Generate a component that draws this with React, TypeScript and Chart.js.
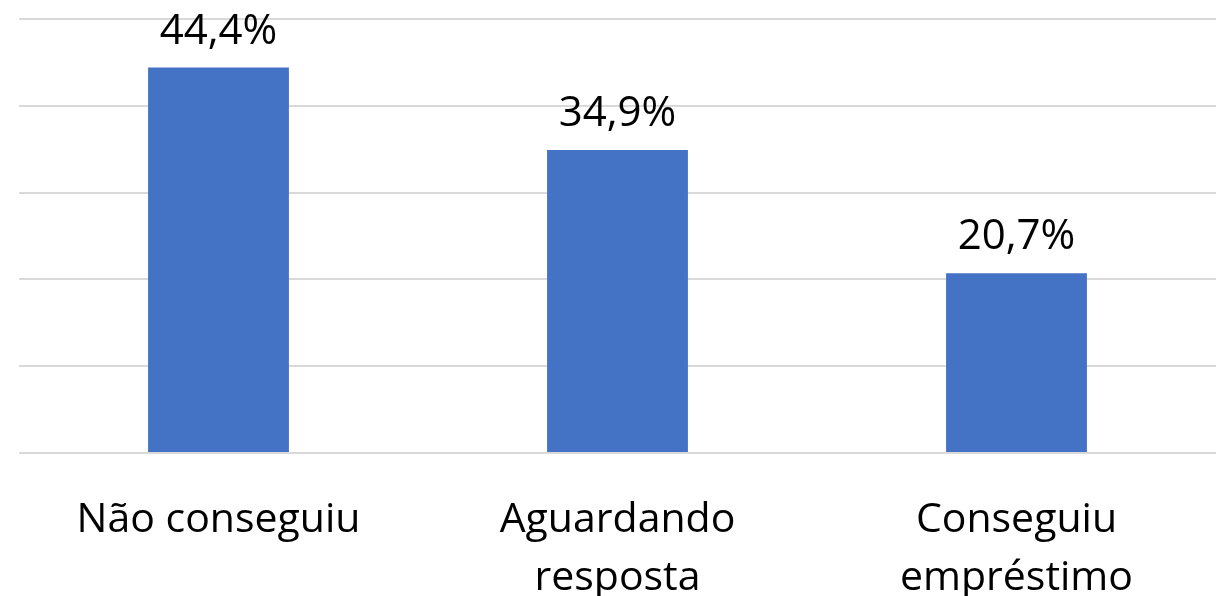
import React, { useEffect, useRef } from "react";
import { Chart, registerables } from "chart.js";

Chart.register(...registerables);

const categories: (string | string[])[] = [
  "Não conseguiu",
  ["Aguardando", "resposta"],
  ["Conseguiu", "empréstimo"],
];
const values: number[] = [44.4, 34.9, 20.7];
const yTicks: number[] = [0, 10, 20, 30, 40, 50];

const FONT = "'Open Sans', 'Noto Sans', sans-serif";

const fmt = (v: number) => v.toFixed(1).replace(".", ",") + "%";

const valueLabels = {
  id: "valueLabels",
  afterDatasetsDraw(chart: any) {
    const ctx = chart.ctx;
    const meta = chart.getDatasetMeta(0);
    ctx.save();
    ctx.font = `42px ${FONT}`;
    ctx.fillStyle = "#000000";
    ctx.textAlign = "center";
    ctx.textBaseline = "alphabetic";
    meta.data.forEach((bar: any, i: number) => {
      ctx.fillText(fmt(values[i]), bar.x, bar.y - 24);
    });
    ctx.restore();
  },
};

export default function App() {
  const ref = useRef<HTMLCanvasElement | null>(null);
  useEffect(() => {
    document.body.style.margin = "0";
    const chart = new Chart(ref.current as HTMLCanvasElement, {
      type: "bar",
      data: {
        labels: categories,
        datasets: [
          {
            data: values,
            backgroundColor: "#4472C4",
            categoryPercentage: 1,
            barPercentage: 0.353,
          },
        ],
      },
      options: {
        responsive: false,
        animation: false,
        layout: { padding: { left: 19, right: 2, top: 19, bottom: 0 } },
        plugins: { legend: { display: false }, tooltip: { enabled: false } },
        scales: {
          x: {
            grid: { display: false },
            border: { display: false },
            ticks: {
              color: "#000000",
              font: { family: FONT, size: 41, lineHeight: "58px" },
              padding: 30,
              maxRotation: 0,
              autoSkip: false,
            },
            afterFit: (s: any) => {
              s.height = 143;
            },
          },
          y: {
            min: 0,
            max: 50,
            afterBuildTicks: (s: any) => {
              s.ticks = yTicks.map((v) => ({ value: v }));
            },
            ticks: { display: false },
            grid: { color: "#D9D9D9", lineWidth: 2, drawTicks: false },
            border: { display: false },
            afterFit: (s: any) => {
              s.width = 0;
            },
          },
        },
      },
      plugins: [valueLabels],
    });
    return () => chart.destroy();
  }, []);
  return <canvas ref={ref} width={1218} height={596} style={{ display: "block" }} />;
}
